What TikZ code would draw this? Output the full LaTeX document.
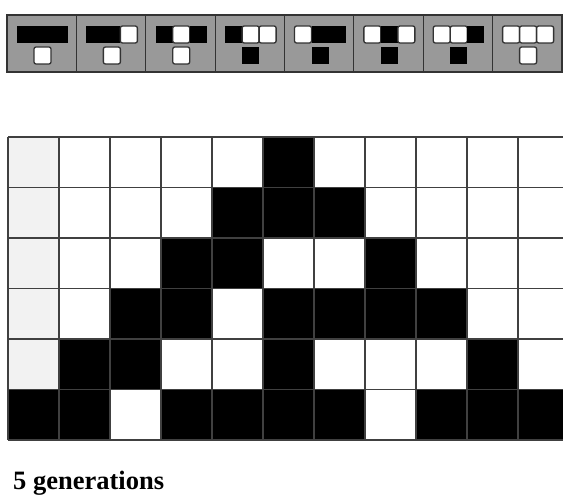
\documentclass[tikz,border=0pt]{standalone}
\usepackage{fontspec}
\newfontfamily\capfont{Liberation Serif}
\newcommand\ruleCell[3]{%
  \ifnum#3=1
    \fill[black] (#1,#2) rectangle ++(17,17);
  \else
    \draw[fill=white, draw=black!80, line width=1.3pt, rounded corners=2pt] (#1,#2) rectangle ++(17,17);
  \fi}
\tikzset{
  gridline/.style={draw=black!75, line width=1.4pt},
  stripline/.style={draw=black!80, line width=1.2pt},
  caption/.style={anchor=base west, inner sep=0pt, font=\capfont\bfseries\fontsize{26.5}{30}\selectfont}
}
\begin{document}
\begin{tikzpicture}[x=1pt,y=-1pt]
\useasboundingbox (0,0) rectangle (563,500);
% rule strip
\fill[black!40] (7,15) rectangle (562,72);
\foreach \i/\a/\b/\c/\d in {0/1/1/1/0,1/1/1/0/0,2/1/0/1/0,3/1/0/0/1,4/0/1/1/1,5/0/1/0/1,6/0/0/1/1,7/0/0/0/0}{
  \pgfmathsetmacro\bx{7+69.375*\i}
  \pgfmathsetmacro\xa{\bx+10}
  \pgfmathsetmacro\xb{\bx+27}
  \pgfmathsetmacro\xc{\bx+44}
  \ruleCell{\xa}{26}{\a}
  \ruleCell{\xb}{26}{\b}
  \ruleCell{\xc}{26}{\c}
  \ruleCell{\xb}{47}{\d}
}
\foreach \i in {1,...,7} \draw[stripline] (7+69.375*\i,15) -- ++(0,57);
\draw[stripline] (7,15) rectangle (562,72);
% grid
\begin{scope}
\clip (0,0) rectangle (563,500);
\foreach \r in {0,...,4} \fill[black!5] (8,137+50.5*\r) rectangle ++(51,50.5);
\foreach \r/\c in {0/5, 1/4,1/5,1/6, 2/3,2/4,2/7, 3/2,3/3,3/5,3/6,3/7,3/8,
  4/1,4/2,4/5,4/9, 5/0,5/1,5/3,5/4,5/5,5/6,5/8,5/9,5/10}
  \fill[black] (8+51*\c,137+50.5*\r) rectangle ++(51,50.5);
\foreach \k in {0,...,10} \draw[gridline] (8+51*\k,137) -- (8+51*\k,440);
\foreach \j in {0,...,6} \draw[gridline] (8,137+50.5*\j) -- (570,137+50.5*\j);
\end{scope}
\node[caption] (cap) at (13,489) {5 generations};
\end{tikzpicture}
\end{document}
